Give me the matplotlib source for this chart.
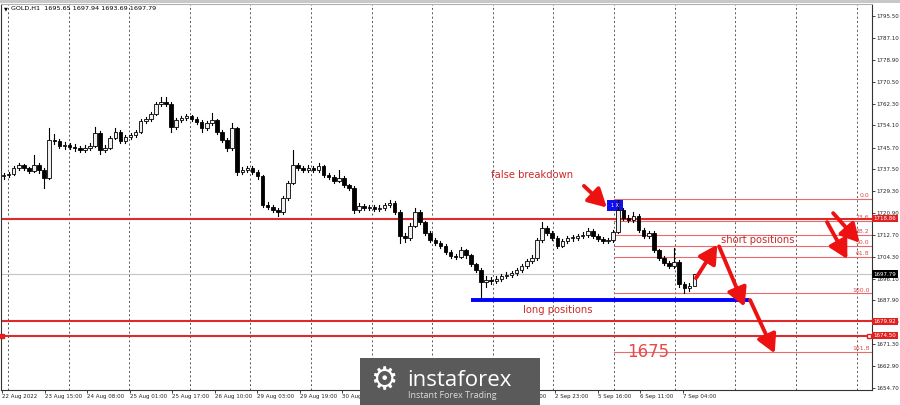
import matplotlib.pyplot as plt
from matplotlib.patches import Rectangle, FancyArrowPatch
import matplotlib.transforms as mtransforms

# ---- data (2-hour candles) ----
first_open = 1734.9
closes = [1735.3, 1735.7, 1738.0, 1739.1, 1738.0, 1736.8, 1739.1, 1737.2, 1734.2, 1748.6,
          1748.2, 1746.3, 1746.7, 1745.9, 1745.5, 1744.8, 1745.5, 1746.3, 1751.2, 1744.8,
          1745.5, 1749.3, 1751.6, 1748.2, 1749.7, 1750.5, 1751.6, 1755.8, 1756.5, 1758.4,
          1762.2, 1763.0, 1762.2, 1753.5, 1756.1, 1756.9, 1757.6, 1756.5, 1755.4, 1753.1,
          1755.0, 1756.1, 1751.6, 1748.6, 1745.5, 1753.1, 1736.5, 1737.2, 1738.0, 1736.5,
          1734.9, 1724.0, 1723.2, 1722.1, 1721.3, 1726.6, 1732.3, 1739.1, 1738.0, 1737.2,
          1738.0, 1737.2, 1738.7, 1735.3, 1734.6, 1733.1, 1734.2, 1731.5, 1730.4, 1722.1,
          1723.6, 1722.8, 1723.2, 1722.5, 1722.8, 1724.0, 1724.7, 1721.3, 1712.2, 1711.5,
          1716.0, 1721.3, 1717.5, 1713.4, 1710.7, 1709.6, 1708.5, 1706.2, 1704.7, 1704.3,
          1706.9, 1705.0, 1701.6, 1699.4, 1694.8, 1695.6, 1695.2, 1696.0, 1697.1, 1697.5,
          1698.2, 1699.4, 1700.9, 1702.8, 1703.9, 1710.7, 1715.3, 1713.4, 1711.5, 1708.5,
          1710.3, 1711.5, 1711.5, 1712.2, 1712.6, 1714.1, 1712.2, 1711.1, 1710.3, 1710.7,
          1713.8, 1722.1, 1719.1, 1718.3, 1719.8, 1714.5, 1712.2, 1713.4, 1706.9, 1703.9,
          1702.0, 1700.9, 1702.4, 1694.1, 1692.6, 1693.3, 1697.79]
highs = [1736.2, 1736.6, 1738.9, 1740.0, 1739.6, 1738.5, 1742.9, 1739.8, 1737.9, 1753.1,
         1751.0, 1749.0, 1747.8, 1747.4, 1746.9, 1746.2, 1746.5, 1747.6, 1753.5, 1752.0,
         1746.8, 1750.2, 1753.1, 1752.3, 1750.6, 1751.4, 1752.5, 1756.6, 1757.4, 1759.3,
         1763.0, 1764.9, 1764.9, 1762.8, 1757.0, 1757.8, 1758.6, 1758.2, 1757.1, 1756.0,
         1755.9, 1758.8, 1756.7, 1752.2, 1749.3, 1755.0, 1753.6, 1738.4, 1738.9, 1738.6,
         1737.1, 1735.5, 1725.0, 1723.9, 1722.9, 1727.5, 1733.2, 1744.8, 1740.0, 1738.8,
         1739.0, 1738.7, 1739.9, 1739.3, 1736.1, 1735.2, 1737.2, 1734.9, 1732.1, 1731.0,
         1724.6, 1724.5, 1724.1, 1723.9, 1723.8, 1724.9, 1725.9, 1725.3, 1721.9, 1713.5,
         1717.0, 1722.8, 1722.0, 1718.1, 1714.0, 1711.5, 1710.4, 1709.1, 1706.9, 1705.6,
         1708.1, 1707.5, 1705.6, 1702.2, 1700.0, 1697.0, 1696.8, 1697.1, 1698.0, 1698.6,
         1699.1, 1700.3, 1701.8, 1703.7, 1705.0, 1711.6, 1717.5, 1716.1, 1714.2, 1712.1,
         1711.2, 1712.4, 1712.5, 1713.1, 1713.6, 1715.3, 1714.7, 1712.9, 1711.8, 1711.6,
         1714.6, 1725.9, 1723.0, 1720.0, 1721.3, 1720.4, 1715.1, 1714.1, 1714.0, 1707.5,
         1704.5, 1702.7, 1707.7, 1703.0, 1694.8, 1694.5, 1697.94]
lows = [1734.0, 1734.6, 1735.2, 1737.4, 1737.3, 1736.0, 1736.3, 1735.9, 1730.4, 1733.8,
        1746.9, 1745.6, 1745.2, 1745.0, 1744.4, 1743.9, 1744.0, 1744.9, 1745.8, 1743.3,
        1743.9, 1745.0, 1748.8, 1747.4, 1747.6, 1749.0, 1749.8, 1751.1, 1755.0, 1755.9,
        1757.9, 1761.6, 1761.3, 1751.6, 1752.8, 1755.3, 1756.0, 1755.6, 1754.5, 1751.6,
        1752.4, 1754.3, 1750.8, 1747.7, 1744.6, 1744.9, 1735.3, 1735.6, 1736.4, 1735.7,
        1734.0, 1723.2, 1722.3, 1721.2, 1719.8, 1720.7, 1726.0, 1731.8, 1737.2, 1736.3,
        1736.5, 1736.4, 1736.6, 1734.5, 1733.8, 1732.2, 1732.5, 1730.7, 1729.6, 1720.9,
        1721.4, 1722.0, 1722.1, 1721.6, 1721.8, 1722.2, 1723.3, 1720.5, 1709.6, 1709.8,
        1710.9, 1715.5, 1716.6, 1712.5, 1709.9, 1708.7, 1707.6, 1705.3, 1703.8, 1703.4,
        1703.8, 1704.1, 1700.8, 1698.5, 1688.8, 1693.0, 1694.0, 1694.4, 1695.3, 1696.4,
        1696.8, 1697.6, 1698.8, 1700.2, 1702.0, 1703.3, 1710.1, 1712.5, 1710.6, 1707.6,
        1707.9, 1709.6, 1710.5, 1710.8, 1711.4, 1712.0, 1711.4, 1710.2, 1709.5, 1709.6,
        1710.1, 1713.2, 1718.2, 1717.4, 1717.6, 1713.6, 1711.3, 1711.5, 1706.0, 1703.0,
        1701.1, 1700.0, 1700.1, 1693.0, 1690.7, 1691.6, 1693.69]

price_ticks = [1795.50, 1787.10, 1778.90, 1770.50, 1762.30, 1754.10, 1745.70, 1737.50,
               1729.30, 1720.90, 1712.70, 1704.30, 1696.10, 1687.90, 1679.50, 1671.30,
               1662.90, 1654.70]
time_labels = ["22 Aug 2022", "23 Aug 15:00", "24 Aug 08:00", "25 Aug 01:00", "25 Aug 17:00",
               "26 Aug 10:00", "29 Aug 03:00", "29 Aug 19:00", "30 Aug 12:00", "31 Aug 05:00",
               "31 Aug 21:00", "1 Sep 14:00", "2 Sep 07:00", "2 Sep 23:00", "5 Sep 16:00",
               "6 Sep 11:00", "7 Sep 04:00"]

red_levels = [1718.86, 1679.92, 1674.50]
current_price = 1697.79
fib_high, fib_low = 1726.4, 1690.5
fib_ratios = [0.0, 23.6, 38.2, 50.0, 61.8, 100.0, 161.8]
long_level = 1688.0

BARS_PER_CANDLE = 2
LABEL_STEP = 16.75      # bars between time labels
GRID_STEP = 23.86       # bars between dotted separators
XMAX = 342.9
YMIN, YMAX = 1653.95, 1800.05

RED = "#dd2a2a"
ARROW_RED = "#ee1111"
FIB_RED = "#ec6a6a"

fig = plt.figure(figsize=(9, 4.05), dpi=100)
fig.patch.set_facecolor("white")
fig.patches.append(Rectangle((0, 0.993), 1, 0.007, transform=fig.transFigure,
                             facecolor="#c8c8c8", edgecolor="none"))
ax = fig.add_axes([1 / 900, 15 / 405, 871 / 900, 386 / 405])
ax.set_xlim(0, XMAX)
ax.set_ylim(YMIN, YMAX)

# dotted period separators
k = 0
while 2.76 + GRID_STEP * k < XMAX:
    ax.axvline(2.76 + GRID_STEP * k, color="#555555", lw=0.7, ls=(0, (2, 2.5)), zorder=0)
    k += 1

# horizontal levels
ax.axhline(current_price, color="#c4c4c4", lw=0.8, zorder=1)
for lvl in red_levels:
    ax.axhline(lvl, color=RED, lw=1.5, zorder=2)

fib_x0 = 241.3
for r in fib_ratios:
    p = fib_high - (fib_high - fib_low) * r / 100
    ax.plot([fib_x0, XMAX], [p, p], color=FIB_RED, lw=0.8, zorder=1)
    ax.text(XMAX - 1.0, p + 0.3, f"{r:.1f}", color="#e04848", fontsize=4.4,
            ha="right", va="bottom", zorder=3)

ax.plot([185.0, 294.5], [long_level, long_level], color="#0000ff", lw=2.8,
        solid_capstyle="butt", zorder=4)

# candles
opens = [first_open] + closes[:-1]
for i, (o, h, l, c) in enumerate(zip(opens, highs, lows, closes)):
    x = BARS_PER_CANDLE * i + 1
    ax.plot([x, x], [l, h], color="black", lw=0.8, zorder=5)
    bull = c >= o
    ax.add_patch(Rectangle((x - 0.7, min(o, c)), 1.4, max(abs(c - o), 0.2),
                           facecolor="#f0f0f0" if bull else "black",
                           edgecolor="black", lw=0.6, zorder=6))

# blue marker box at the false break
ax.add_patch(Rectangle((238.5, 1721.6), 6.3, 4.2, facecolor="#1010ee", edgecolor="none", zorder=4))
ax.text(241.6, 1723.7, "1 X", color="white", fontsize=3.5, ha="center", va="center", zorder=7)

# arrows
arrows = [((229.5, 1731.2), (238.5, 1723.0)),
          ((273.6, 1696.3), (282.0, 1709.0)),
          ((282.7, 1708.3), (292.7, 1685.5)),
          ((294.9, 1688.0), (304.6, 1667.8)),
          ((327.6, 1720.9), (338.0, 1709.7)),
          ((325.2, 1717.5), (333.2, 1703.5))]
for start, end in arrows:
    ax.add_patch(FancyArrowPatch(start, end, arrowstyle="-|>,head_length=0.55,head_width=0.3",
                                 mutation_scale=20, lw=2.8, color=ARROW_RED, zorder=8,
                                 shrinkA=0, shrinkB=0))

ax.text(209.0, 1735.4, "false breakdown", color="#cc2a2a", fontsize=7.2, ha="center", va="center")
ax.text(283.5, 1710.9, "short positions", color="#cc2a2a", fontsize=7.2, ha="left", va="center")
ax.text(219.0, 1684.3, "long positions", color="#cc2a2a", fontsize=7.2, ha="center", va="center")
ax.text(254.7, 1668.4, "1675", color="#e84a4a", fontsize=12, ha="center", va="center")

# title
ax.text(0.003, 0.993, "\u25bc", transform=ax.transAxes, fontsize=3.6, va="top", ha="left")
ax.text(0.012, 0.995, "GOLD,H1  1695.65 1697.94 1693.69 1697.79", transform=ax.transAxes,
        fontsize=4.6, va="top", ha="left")

# axes styling
ax.yaxis.tick_right()
ax.set_yticks(price_ticks)
ax.set_yticklabels([f"{v:.2f}" for v in price_ticks])
ax.set_xticks([LABEL_STEP * k + 0.4 for k in range(len(time_labels))])
ax.set_xticklabels(time_labels, ha="left")
ax.tick_params(axis="y", labelsize=4.0, length=2, width=0.6, pad=1.2, colors="#222222")
ax.tick_params(axis="x", labelsize=4.0, length=2, width=0.6, pad=1.2, colors="#222222")
for side in ["left", "bottom", "right"]:
    ax.spines[side].set_color("#333333")
    ax.spines[side].set_linewidth(0.8)
ax.spines["top"].set_color("#b0b0b0")

# price tags on the right scale
trans = mtransforms.blended_transform_factory(ax.transAxes, ax.transData)
for lvl in red_levels:
    ax.text(1.002, lvl, f"{lvl:.2f}", transform=trans, fontsize=4.0, color="white",
            ha="left", va="center", clip_on=False, zorder=10,
            bbox=dict(facecolor="#e02020", edgecolor="none", pad=0.9))
ax.text(1.002, current_price, f"{current_price:.2f}", transform=trans, fontsize=4.0,
        color="white", ha="left", va="center", clip_on=False, zorder=10,
        bbox=dict(facecolor="black", edgecolor="none", pad=0.9))
ax.plot([0.4], [1674.50], marker="s", ms=2.5, color="#e02020", clip_on=False, zorder=9)
ax.plot([XMAX - 1.2], [1674.50], marker="s", ms=2.5, mfc="white", mec="#e02020", clip_on=False, zorder=9)

# logo block
fig.patches.append(Rectangle((360 / 900, 0), 180 / 900, 47 / 405, transform=fig.transFigure,
                             facecolor="#5a5a5a", edgecolor="none", zorder=20))
fig.text(384 / 900, 24 / 405, "\u2699", color="white", fontsize=22, ha="center", va="center", zorder=21)
fig.text(407 / 900, 24 / 405, "instaforex", color="white", fontsize=16, family="Open Sans",
         ha="left", va="center", zorder=21)
fig.text(408 / 900, 9 / 405, "Instant Forex Trading", color="#dddddd", fontsize=6.4,
         family="Open Sans", ha="left", va="center", zorder=21)

fig.savefig("out.png", dpi=100)
